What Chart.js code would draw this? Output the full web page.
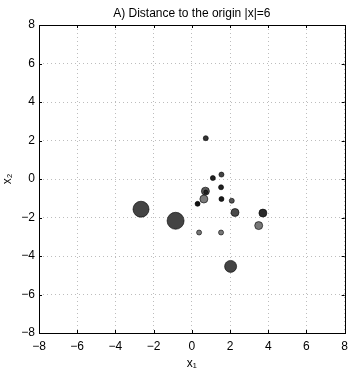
<!DOCTYPE html>
<html>
<head>
<meta charset="utf-8">
<script src="https://cdn.jsdelivr.net/npm/chart.js@4"></script>
<style>
  html, body { margin: 0; padding: 0; background: #fff; }
  #wrap { width: 354px; height: 371px; }
</style>
</head>
<body>
<div id="wrap"><canvas id="chart" width="354" height="371"></canvas></div>
<script>
// point positions
const xValues = [-2.66, -0.85, 2.03, 2.26, 3.72, 3.50, 0.71, 0.63, 0.73, 1.55, 1.10, 1.53, 1.55, 0.30, 2.09, 0.73, 0.38, 1.53];
const yValues = [-1.57, -2.17, -4.54, -1.74, -1.77, -2.42, -0.63, -1.04, -0.68, 0.23, 0.05, -0.43, -1.04, -1.29, -1.13, 2.12, -2.78, -2.78];
// marker sizes (px radius) and grey levels per point
const sizes = [8, 8.5, 6, 4, 4, 4, 4, 4, 2, 2.5, 2.5, 2.5, 2.5, 2.5, 2.5, 2.5, 2.5, 2.5];
const greys = ['#444', '#444', '#444', '#4a4a4a', '#2a2a2a', '#777', '#5a5a5a', '#7a7a7a', '#222', '#444', '#222', '#222', '#1a1a1a', '#111', '#555', '#333', '#777', '#777'];
const tickValues = [-8, -6, -4, -2, 0, 2, 4, 6, 8];
const titleText = 'A) Distance to the origin |x|=6';

const points = xValues.map((x, i) => ({ x: x, y: yValues[i], r: sizes[i] }));
const font = { family: 'Liberation Sans, Arial, sans-serif', size: 12 };

// black frame with inward ticks, plus the title centred over the plot box
const boxPlugin = {
  id: 'box',
  afterDraw(chart) {
    const ctx = chart.ctx;
    const a = chart.chartArea;
    const xs = chart.scales.x, ys = chart.scales.y;
    ctx.save();
    ctx.strokeStyle = '#000';
    ctx.lineWidth = 1;
    ctx.strokeRect(Math.round(a.left) + 0.5, Math.round(a.top) + 0.5,
      Math.round(a.right - a.left), Math.round(a.bottom - a.top));
    ctx.beginPath();
    tickValues.forEach(v => {
      const px = Math.round(xs.getPixelForValue(v)) + 0.5;
      ctx.moveTo(px, a.bottom); ctx.lineTo(px, a.bottom - 3);
      ctx.moveTo(px, a.top); ctx.lineTo(px, a.top + 3);
      const py = Math.round(ys.getPixelForValue(v)) + 0.5;
      ctx.moveTo(a.left, py); ctx.lineTo(a.left + 3, py);
      ctx.moveTo(a.right, py); ctx.lineTo(a.right - 3, py);
    });
    ctx.stroke();

    ctx.fillStyle = '#000';
    ctx.font = '12px ' + font.family;
    ctx.textAlign = 'center';
    ctx.textBaseline = 'middle';
    ctx.fillText(titleText, (a.left + a.right) / 2, 14);
    ctx.restore();
  }
};

new Chart(document.getElementById('chart'), {
  type: 'bubble',
  data: {
    datasets: [{
      data: points,
      backgroundColor: greys,
      borderColor: '#000',
      borderWidth: 0.6
    }]
  },
  plugins: [boxPlugin],
  options: {
    responsive: false,
    animation: false,
    layout: { padding: { left: 0, right: 7, top: 25, bottom: 0 } },
    plugins: {
      legend: { display: false },
      tooltip: { enabled: false },
      title: { display: false }
    },
    scales: {
      x: {
        type: 'linear',
        min: -8, max: 8,
        afterBuildTicks(scale) { scale.ticks = tickValues.map(v => ({ value: v })); },
        afterFit(scale) { scale.height = 38; },
        grid: { color: '#bdbdbd', lineWidth: 1, drawTicks: false },
        border: { display: false, dash: [1, 3] },
        ticks: {
          color: '#000', font: font, padding: 6, maxRotation: 0,
          callback: v => String(v).replace('-', '\u2212')
        },
        title: { display: true, text: 'x\u2081', color: '#000', font: font, padding: { top: 0, bottom: 0 } }
      },
      y: {
        type: 'linear',
        min: -8, max: 8,
        afterBuildTicks(scale) { scale.ticks = tickValues.map(v => ({ value: v })); },
        afterFit(scale) { scale.width = 39; },
        grid: { color: '#bdbdbd', lineWidth: 1, drawTicks: false },
        border: { display: false, dash: [1, 3] },
        ticks: {
          color: '#000', font: font, padding: 4,
          callback: v => String(v).replace('-', '\u2212')
        },
        title: { display: true, text: 'x\u2082', color: '#000', font: font, padding: { top: 0, bottom: 2 } }
      }
    }
  }
});
</script>
</body>
</html>
